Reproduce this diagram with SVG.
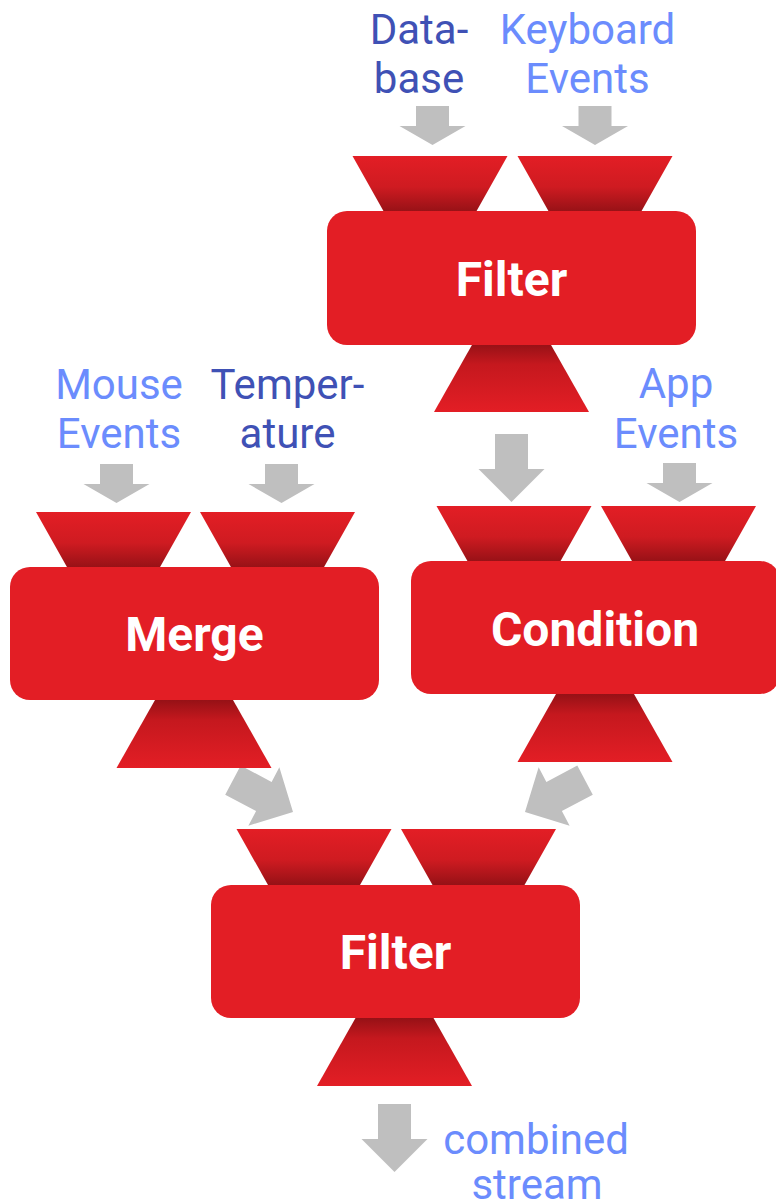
<svg xmlns="http://www.w3.org/2000/svg" xmlns:xlink="http://www.w3.org/1999/xlink" width="776" height="1202" viewBox="0 0 776 1202">
  <style>
    .box { fill: #e31e25; }
    .nodeLabel { font-family: Roboto, "Liberation Sans", sans-serif; font-weight: 700; font-size: 48px; fill: #ffffff; text-anchor: middle; }
    .src { font-family: Roboto, "Liberation Sans", sans-serif; font-size: 42px; text-anchor: middle; }
    .dark { fill: #3f51b5; }
    .light { fill: #6b8cfd; }
    .arrow { fill: #bfbfbf; }
  </style>
  <defs>
    <linearGradient id="gradIn" x1="0" y1="0" x2="0" y2="1">
      <stop offset="0" stop-color="#e31e25"/>
      <stop offset="0.55" stop-color="#cf1b21"/>
      <stop offset="1" stop-color="#961116"/>
    </linearGradient>
    <linearGradient id="gradOut" x1="0" y1="0" x2="0" y2="1">
      <stop offset="0" stop-color="#961116"/>
      <stop offset="0.3" stop-color="#c5181e"/>
      <stop offset="1" stop-color="#e31e25"/>
    </linearGradient>
    <!-- input funnel: wide on top, narrows into the box -->
    <polygon id="funnelIn" points="-77.5,0 77.5,0 46,56 -46,56" fill="url(#gradIn)"/>
    <!-- output funnel: starts under the box, widens downward -->
    <polygon id="funnelOut" points="-39,0 39,0 77.5,68 -77.5,68" fill="url(#gradOut)"/>
    <!-- arrows point down, tip at origin -->
    <polygon id="arrowS" points="-16.5,-39 16.5,-39 16.5,-19 33,-19 0,0 -33,-19 -16.5,-19"/>
    <polygon id="arrowL" points="-16.5,-68 16.5,-68 16.5,-33 33,-33 0,0 -33,-33 -16.5,-33"/>
  </defs>

  <!-- source labels -->
  <g id="labels">
    <text class="src dark" x="419" y="44">Data-</text>
    <text class="src dark" x="419" y="93">base</text>
    <text class="src light" x="587.5" y="44">Keyboard</text>
    <text class="src light" x="587.5" y="93">Events</text>
    <text class="src light" x="119" y="399">Mouse</text>
    <text class="src light" x="119" y="448">Events</text>
    <text class="src dark" x="287.5" y="399">Temper-</text>
    <text class="src dark" x="287.5" y="448">ature</text>
    <text class="src light" x="676" y="398">App</text>
    <text class="src light" x="676" y="448">Events</text>
    <text class="src light" x="536" y="1154">combined</text>
    <text class="src light" x="537" y="1199">stream</text>
  </g>

  <!-- connectors -->
  <g id="connectors" class="arrow">
    <use xlink:href="#arrowS" transform="translate(432.5,145)"/>
    <use xlink:href="#arrowS" transform="translate(595,145)"/>
    <use xlink:href="#arrowS" transform="translate(116.5,503)"/>
    <use xlink:href="#arrowS" transform="translate(281.5,503)"/>
    <use xlink:href="#arrowS" transform="translate(679.5,502)"/>
    <use xlink:href="#arrowL" transform="translate(511.5,502)"/>
    <use xlink:href="#arrowL" transform="translate(293,812) rotate(-62)"/>
    <use xlink:href="#arrowL" transform="translate(525,812) rotate(62)"/>
    <use xlink:href="#arrowL" transform="translate(394.5,1172)"/>
  </g>

  <!-- Filter (top) -->
  <g id="filterTop">
    <use xlink:href="#funnelIn" transform="translate(430,156)"/>
    <use xlink:href="#funnelIn" transform="translate(595,156)"/>
    <use xlink:href="#funnelOut" transform="translate(511.5,344)"/>
    <rect class="box" x="327" y="211" width="369" height="134" rx="20"/>
    <text class="nodeLabel" x="511.5" y="296">Filter</text>
  </g>

  <!-- Merge -->
  <g id="merge">
    <use xlink:href="#funnelIn" transform="translate(113.5,512)"/>
    <use xlink:href="#funnelIn" transform="translate(277.5,512)"/>
    <use xlink:href="#funnelOut" transform="translate(194,700)"/>
    <rect class="box" x="10" y="567" width="369" height="133" rx="20"/>
    <text class="nodeLabel" x="194.5" y="651">Merge</text>
  </g>

  <!-- Condition -->
  <g id="condition">
    <use xlink:href="#funnelIn" transform="translate(514,506)"/>
    <use xlink:href="#funnelIn" transform="translate(678.5,506)"/>
    <use xlink:href="#funnelOut" transform="translate(595,694)"/>
    <rect class="box" x="411" y="561" width="369" height="133" rx="20"/>
    <text class="nodeLabel" x="595" y="646">Condition</text>
  </g>

  <!-- Filter (bottom) -->
  <g id="filterBottom">
    <use xlink:href="#funnelIn" transform="translate(314,829)"/>
    <use xlink:href="#funnelIn" transform="translate(478.5,829)"/>
    <use xlink:href="#funnelOut" transform="translate(394.5,1018)"/>
    <rect class="box" x="211" y="885" width="369" height="133" rx="20"/>
    <text class="nodeLabel" x="395.5" y="969">Filter</text>
  </g>
</svg>
